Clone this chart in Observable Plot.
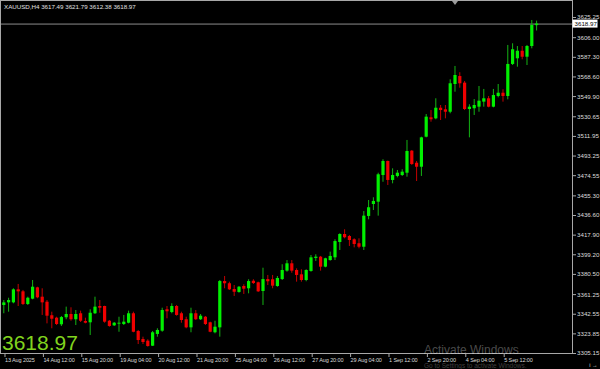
<!DOCTYPE html>
<html>
<head>
<meta charset="utf-8">
<script src="https://cdn.jsdelivr.net/npm/d3@7"></script>
<script src="https://cdn.jsdelivr.net/npm/@observablehq/plot@0.6"></script>
<style>
html, body { margin: 0; padding: 0; background: #000; }
#wrap { position: relative; width: 600px; height: 369px; overflow: hidden; background: #000; font-family: "Liberation Sans", Arial, sans-serif; }
#wrap svg { display: block; }
.ov { position: absolute; white-space: nowrap; pointer-events: none; }
#hdr { left: 4px; top: 4px; font-size: 6.2px; line-height: 6.2px; color: #e0e0e0; }
#big { left: 2px; top: 332px; font-size: 21px; line-height: 21px; color: #80d41e; }
#wm1 { left: 424px; top: 344px; font-size: 12px; line-height: 12px; color: rgba(255,255,255,0.30); }
#wm2 { left: 424px; top: 362.5px; font-size: 6.5px; line-height: 6.5px; color: rgba(255,255,255,0.25); }
#shift { left: 452px; top: 1px; width: 0; height: 0; border-left: 3px solid transparent; border-right: 3px solid transparent; border-top: 4px solid #9a9a9a; }
</style>
</head>
<body>
<div id="wrap"></div>
<script>
// ---- data (XAUUSD H4) ----
const symbol = "XAUUSD,H4";
const opens = [3350.9,3353.4,3353.4,3365.8,3363.9,3351.8,3356.9,3367.7,3358.8,3354.0,
3341.1,3338.8,3332.5,3339.2,3342.3,3337.3,3343.0,3335.6,3334.4,3343.0,
3349.9,3349.9,3335.9,3331.5,3333.1,3332.8,3334.0,3343.0,3326.1,3318.5,
3316.9,3312.1,3323.3,3326.4,3346.8,3344.2,3349.9,3343.0,3337.3,3329.6,
3343.0,3337.3,3339.7,3334.4,3324.9,3329.6,3373.7,3371.6,3366.1,3363.3,
3369.0,3366.8,3374.0,3372.5,3364.2,3375.6,3375.4,3369.0,3375.6,3383.6,
3390.6,3384.2,3380.1,3374.7,3383.3,3395.7,3396.9,3387.4,3393.7,3396.3,
3410.9,3418.5,3416.6,3413.5,3409.7,3406.4,3435.7,3447.1,3449.3,3474.7,
3488.1,3470.0,3473.8,3474.7,3476.9,3497.9,3486.4,3482.6,3511.2,3529.7,
3528.7,3538.8,3537.3,3535.0,3561.4,3569.0,3562.7,3537.6,3538.3,3539.8,
3544.6,3547.8,3539.8,3550.0,3553.1,3550.0,3580.5,3585.9,3593.1,3587.4,
3597.6,3617.49];
const highs = [3355.6,3357.8,3366.8,3370.9,3365.2,3358.8,3374.7,3368.3,3366.8,3355.6,
3344.5,3339.7,3340.4,3349.3,3348.7,3346.1,3345.5,3338.8,3346.8,3358.8,
3355.6,3350.2,3336.6,3334.7,3339.7,3341.4,3345.5,3344.5,3327.1,3320.7,
3318.2,3326.1,3328.7,3348.3,3349.9,3352.5,3350.9,3344.5,3339.7,3348.3,
3346.1,3342.3,3340.4,3335.0,3335.9,3374.7,3378.5,3373.1,3369.9,3369.0,
3370.6,3375.4,3375.4,3373.1,3386.4,3379.5,3379.5,3378.5,3389.7,3393.7,
3393.7,3385.8,3384.9,3384.9,3398.5,3399.2,3397.6,3395.9,3401.7,3413.5,
3419.2,3423.0,3417.6,3414.4,3414.4,3440.4,3450.9,3453.5,3476.9,3489.7,
3488.4,3481.1,3479.5,3480.2,3508.1,3498.5,3488.1,3511.2,3532.8,3536.6,
3547.8,3541.4,3541.4,3565.9,3578.6,3572.6,3564.3,3542.1,3547.1,3559.5,
3556.7,3550.0,3556.7,3561.4,3556.4,3598.6,3600.2,3597.6,3597.6,3598.6,
3622.4,3621.79];
const lows = [3343.0,3344.5,3352.5,3349.9,3350.9,3350.9,3356.3,3357.3,3341.4,3333.4,
3328.7,3331.8,3330.9,3337.3,3335.9,3331.8,3334.7,3333.4,3322.3,3342.3,
3343.5,3334.0,3330.2,3330.9,3325.4,3331.8,3333.4,3324.9,3313.7,3313.7,
3311.2,3311.8,3320.7,3325.4,3338.2,3343.0,3340.7,3334.0,3328.7,3324.9,
3336.6,3336.6,3331.8,3324.9,3323.9,3320.7,3366.8,3365.2,3359.5,3362.6,
3361.4,3362.0,3370.9,3363.3,3350.9,3369.9,3366.8,3368.3,3374.7,3382.6,
3381.6,3373.1,3373.1,3373.5,3382.6,3392.8,3383.6,3386.8,3393.1,3393.7,
3403.3,3414.4,3407.1,3405.8,3404.9,3403.3,3432.5,3441.4,3436.0,3468.3,
3465.2,3466.8,3472.5,3473.8,3473.1,3484.3,3469.0,3473.8,3510.6,3525.5,
3527.8,3527.1,3528.7,3533.5,3554.1,3557.9,3536.6,3510.6,3531.9,3535.0,
3539.8,3539.2,3539.2,3548.7,3544.6,3546.8,3579.5,3577.9,3584.9,3579.5,
3595.4,3612.38];
const closes = [3353.4,3355.6,3365.8,3363.9,3351.8,3357.8,3368.3,3358.2,3353.4,3340.7,
3337.8,3332.8,3339.4,3342.3,3337.3,3342.3,3335.9,3334.0,3343.5,3349.3,
3348.3,3335.0,3330.9,3334.0,3334.0,3335.0,3343.0,3325.4,3317.5,3315.6,
3311.8,3324.9,3327.1,3346.1,3344.9,3349.9,3341.4,3336.6,3329.6,3343.0,
3337.3,3340.7,3332.8,3325.4,3330.2,3373.7,3371.6,3365.8,3363.5,3368.3,
3366.4,3373.7,3371.8,3363.9,3375.6,3373.5,3369.3,3376.6,3384.2,3390.6,
3383.6,3379.5,3374.7,3384.2,3396.3,3396.9,3387.4,3395.4,3397.6,3411.8,
3418.5,3415.4,3412.8,3409.0,3406.4,3436.0,3444.0,3450.0,3475.4,3488.1,
3470.0,3474.7,3476.9,3477.9,3497.6,3485.2,3482.6,3510.6,3530.3,3527.8,
3538.8,3536.6,3535.0,3562.1,3570.0,3562.1,3537.6,3539.8,3541.4,3545.5,
3547.8,3539.8,3550.9,3553.1,3550.0,3580.5,3594.5,3593.1,3587.4,3597.6,
3617.6,3618.97];
const xTickIdx = [0,8,16,24,32,40,48,56,64,72,80,88,96,104];
const xTickLabels = ["13 Aug 2025","14 Aug 12:00","15 Aug 20:00","19 Aug 04:00","20 Aug 12:00","21 Aug 20:00","25 Aug 04:00","26 Aug 12:00","27 Aug 20:00","29 Aug 04:00","1 Sep 12:00","2 Sep 20:00","4 Sep 04:00","5 Sep 12:00"];
const yTicks = [3625.25,3606.00,3587.30,3568.60,3549.90,3530.65,3511.95,3493.25,3474.55,3455.30,3436.60,3417.90,3399.20,3380.50,3361.25,3342.55,3323.85,3305.15];

// ---- build ----
const bars = opens.map((o, i) => ({i, o, h: highs[i], l: lows[i], c: closes[i], up: closes[i] >= o}));
const lastBar = bars[bars.length - 1];
const last = lastBar.c;

const wrap = document.getElementById("wrap");

const chart = Plot.plot({
  width: 600,
  height: 369,
  marginTop: 0,
  marginBottom: 16,
  marginLeft: 0,
  marginRight: 28,
  style: {background: "#000", color: "#d8d8d8", fontFamily: "Liberation Sans, Arial, sans-serif", fontSize: "6px", overflow: "visible"},
  x: {domain: [-0.6875, 118.48], axis: null},
  y: {domain: [3305.15, 3641.43], axis: null},
  marks: [
    Plot.ruleY([last], {stroke: "#8c8c8c", strokeWidth: 1}),
    Plot.ruleX(bars, {x: "i", y1: "l", y2: "h", stroke: d => d.up ? "#14b414" : "#c40000", strokeWidth: 1}),
    Plot.ruleX(bars, {x: "i", y1: "o", y2: "c", stroke: d => d.up ? "#00f000" : "#f00000", strokeWidth: 3.2}),
    Plot.frame({stroke: "#a8a8a8"}),
    Plot.axisY(yTicks, {
      anchor: "right", tickSize: 3, tickPadding: 1.5,
      tickFormat: d => d.toFixed(2), fill: "#dcdcdc", stroke: "#a8a8a8", fontSize: 6.2
    }),
    Plot.axisX(xTickIdx, {
      anchor: "bottom", tickSize: 4, tickPadding: 1,
      tickFormat: d => xTickLabels[xTickIdx.indexOf(d)],
      textAnchor: "start", dx: 1.2, fill: "#dcdcdc", stroke: "#a8a8a8", fontSize: 5.5
    })
  ]
});
wrap.appendChild(chart);
d3.select(chart).selectAll("[aria-label='x-axis tick label'] text, g[aria-label='x-axis tick label']")
  .attr("letter-spacing", "-0.1");

// current price label box on the price axis
const yPx = chart.scale("y").apply(last);
const xEdge = chart.scale("x").apply(118.48);
const svg = d3.select(chart);
const g = svg.append("g").attr("text-anchor", "start");
g.append("rect").attr("x", xEdge + 0.5).attr("y", yPx - 4).attr("width", 25).attr("height", 8).attr("fill", "#ffffff");
g.append("text").attr("x", xEdge + 2.5).attr("y", yPx).attr("dy", "0.35em")
  .attr("text-anchor", "start").attr("fill", "#000").attr("font-size", 6.2).text(last.toFixed(2));

// overlays
function ov(id, text) {
  const d = document.createElement("div");
  d.className = "ov"; d.id = id; d.textContent = text;
  wrap.appendChild(d);
}
ov("hdr", `${symbol}  ${lastBar.o.toFixed(2)} ${lastBar.h.toFixed(2)} ${lastBar.l.toFixed(2)} ${lastBar.c.toFixed(2)}`);
ov("big", last.toFixed(2));
ov("wm1", "Activate Windows");
ov("wm2", "Go to Settings to activate Windows.");
const sh = document.createElement("div"); sh.className = "ov"; sh.id = "shift"; wrap.appendChild(sh);
</script>
</body>
</html>
